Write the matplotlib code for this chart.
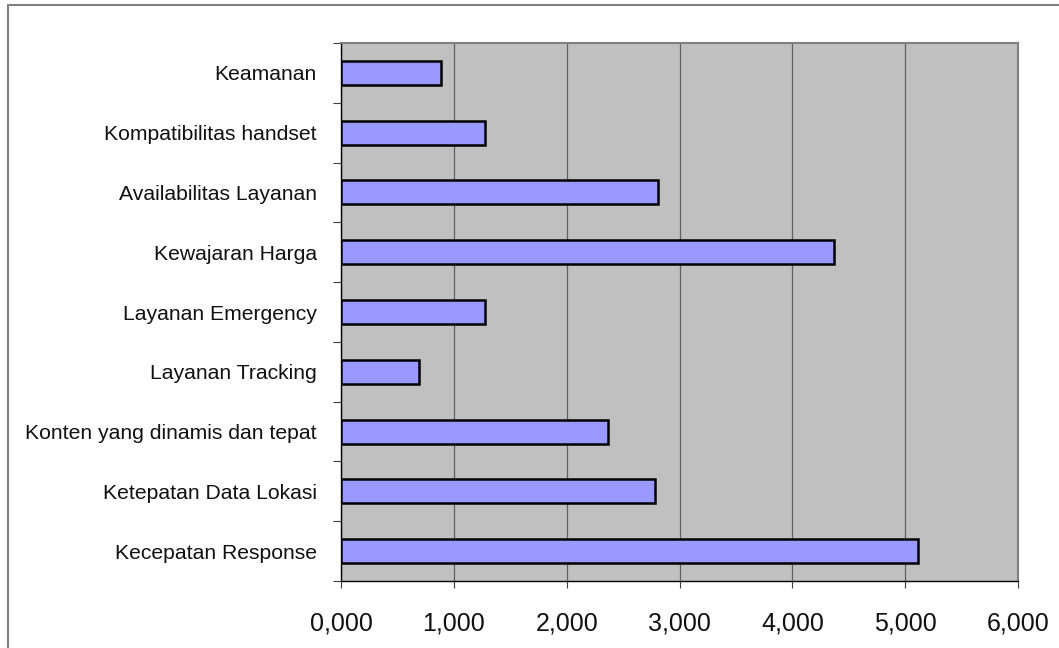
import matplotlib.pyplot as plt
from matplotlib.patches import Rectangle

# data (bottom to top, like the Excel chart)
kategori = ['Kecepatan Response', 'Ketepatan Data Lokasi', 'Konten yang dinamis dan tepat',
            'Layanan Tracking', 'Layanan Emergency', 'Kewajaran Harga',
            'Availabilitas Layanan', 'Kompatibilitas handset', 'Keamanan']
nilai = [5.11, 2.78, 2.37, 0.69, 1.28, 4.37, 2.81, 1.28, 0.89]
xticks = [0, 1, 2, 3, 4, 5, 6]
xlabels = ['0,000', '1,000', '2,000', '3,000', '4,000', '5,000', '6,000']

plt.rcParams['font.family'] = ['Liberation Sans', 'DejaVu Sans']

fig = plt.figure(figsize=(10.59, 6.48), dpi=100)
fig.patch.set_facecolor('white')
# outer chart border
fig.add_artist(Rectangle((8 / 1059, -0.01), 1.1, 1 - 5 / 648 + 0.01, transform=fig.transFigure,
                         fill=False, edgecolor='#808080', linewidth=1.5))

ax = fig.add_axes([341 / 1059, 1 - 581 / 648, (1018 - 341) / 1059, (581 - 43) / 648])
ax.set_facecolor('#c0c0c0')

pos = list(range(len(kategori)))
ax.barh(pos, nilai, height=0.4, color='#9999ff', edgecolor='black', linewidth=1.8, zorder=3)

ax.set_xlim(0, 6)
ax.set_ylim(-0.5, len(kategori) - 0.5)
ax.set_xticks(xticks)
ax.set_xticklabels(xlabels, fontsize=18, color='#111111')
ax.grid(axis='x', color='#606060', linewidth=0.9, zorder=1)

# category labels at centres, tick marks at boundaries
ax.set_yticks(pos)
ax.set_yticklabels(kategori, fontsize=15.2, color='#111111')
ax.tick_params(axis='y', length=0, pad=17.5)
ax.set_yticks([p - 0.5 for p in pos] + [len(kategori) - 0.5], minor=True)
ax.tick_params(axis='y', which='minor', length=6, color='#404040', width=0.8)
ax.tick_params(axis='x', length=5, color='#404040', width=0.8, pad=17)

for s in ['top', 'right']:
    ax.spines[s].set_color('#808080')
    ax.spines[s].set_linewidth(1.5)
for s in ['left', 'bottom']:
    ax.spines[s].set_color('black')
    ax.spines[s].set_linewidth(1.0)

plt.savefig('out.png', dpi=100)
